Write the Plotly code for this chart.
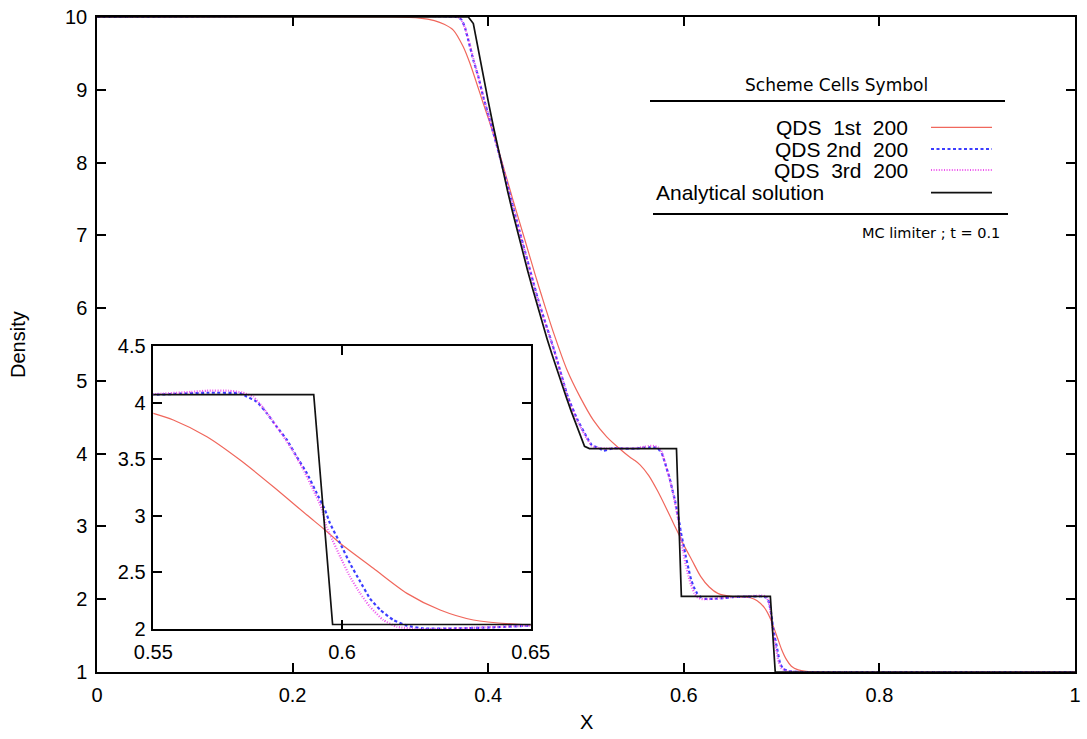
import plotly.graph_objects as go

# Density profiles at t = 0.1 on 200 cells (MC limiter)
x_first = [0.0, 0.30, 0.33, 0.345, 0.355, 0.3643, 0.3745, 0.3814, 0.3882, 0.3950,
           0.4018, 0.4121, 0.425, 0.437, 0.448, 0.4591, 0.4666, 0.4803, 0.4939,
           0.5075, 0.5212, 0.535, 0.545, 0.55, 0.5553, 0.5642, 0.5730, 0.5818,
           0.5907, 0.5955, 0.5995, 0.6083, 0.6172, 0.626, 0.6348, 0.65, 0.66,
           0.668, 0.675, 0.682, 0.688, 0.692, 0.696, 0.700, 0.705, 0.710, 0.717,
           0.725, 0.74, 1.0]
rho_first = [10.0, 10.0, 9.985, 9.95, 9.90, 9.82, 9.59, 9.36, 9.09, 8.81,
             8.54, 8.10, 7.50, 6.96, 6.46, 5.98, 5.67, 5.16, 4.78,
             4.46, 4.23, 4.06, 3.95, 3.905, 3.846, 3.699, 3.493, 3.257,
             3.007, 2.875, 2.757, 2.536, 2.315, 2.168, 2.08, 2.035, 2.03,
             2.02, 1.98, 1.89, 1.75, 1.61, 1.46, 1.31, 1.17, 1.08, 1.03,
             1.01, 1.0, 1.0]

x_second = [0.0, 0.368, 0.3729, 0.3763, 0.3797, 0.3848, 0.3899, 0.395, 0.4018, 0.4121,
            0.43, 0.4512, 0.4675, 0.4815, 0.4915, 0.5007, 0.5058, 0.5143, 0.5177, 0.528,
            0.54, 0.55, 0.5642, 0.573, 0.5748, 0.5774, 0.5801, 0.5827, 0.5854, 0.588,
            0.5907, 0.5933, 0.5955, 0.5968, 0.5995, 0.6021, 0.6048, 0.6074, 0.6101,
            0.6136, 0.6172, 0.6216, 0.63, 0.64, 0.65, 0.665, 0.68, 0.685, 0.6875,
            0.6899, 0.6915, 0.695, 0.6984, 0.7018, 0.7086, 0.72, 1.0]
rho_second = [10.0, 10.0, 9.96, 9.85, 9.68, 9.41, 9.18, 8.90, 8.58, 8.07,
              7.16, 6.11, 5.42, 4.78, 4.46, 4.23, 4.12, 4.07, 4.04, 4.075,
              4.07, 4.07, 4.087, 4.082, 4.052, 4.008, 3.905, 3.787, 3.67, 3.522,
              3.375, 3.199, 3.051, 2.934, 2.757, 2.58, 2.42, 2.27, 2.17,
              2.08, 2.03, 2.005, 2.005, 2.015, 2.03, 2.035, 2.04, 2.02, 1.94,
              1.76, 1.58, 1.35, 1.12, 1.04, 1.01, 1.0, 1.0]

x_third = [0.0, 0.3685, 0.372, 0.376, 0.3797, 0.3848, 0.39, 0.395, 0.4018, 0.4121,
           0.43, 0.4512, 0.4675, 0.4815, 0.4915, 0.5007, 0.5058, 0.512, 0.52, 0.53,
           0.54, 0.55, 0.56, 0.5642, 0.57, 0.5735, 0.5765, 0.5792, 0.5818, 0.5845,
           0.5871, 0.5898, 0.5924, 0.5946, 0.5959, 0.5968, 0.5995, 0.6021, 0.6048,
           0.6074, 0.6109, 0.6145, 0.62, 0.63, 0.65, 0.665, 0.68, 0.684, 0.687,
           0.689, 0.691, 0.694, 0.697, 0.70, 0.706, 0.72, 1.0]
rho_third = [10.0, 10.0, 9.97, 9.86, 9.70, 9.43, 9.17, 8.91, 8.58, 8.07,
             7.15, 6.10, 5.41, 4.77, 4.44, 4.21, 4.11, 4.08, 4.07, 4.075,
             4.075, 4.075, 4.095, 4.105, 4.105, 4.09, 4.052, 3.95, 3.83, 3.70,
             3.566, 3.405, 3.228, 3.066, 2.90, 2.834, 2.64, 2.462, 2.315,
             2.197, 2.08, 2.02, 2.0, 2.005, 2.03, 2.04, 2.05, 2.04, 1.95,
             1.80, 1.58, 1.35, 1.14, 1.05, 1.01, 1.0, 1.0]

x_exact = [0.0, 0.3797, 0.3848, 0.39, 0.395, 0.40, 0.405, 0.41, 0.4121, 0.415,
           0.42, 0.425, 0.43, 0.435, 0.44, 0.445, 0.45, 0.4512, 0.455, 0.46,
           0.465, 0.47, 0.475, 0.48, 0.485, 0.49, 0.495, 0.4985, 0.5035,
           0.5925, 0.5975, 0.6885, 0.6935, 1.0]
rho_exact = [10.0, 10.0, 9.91, 9.534, 9.184, 8.843, 8.513, 8.193, 8.06, 7.886,
             7.598, 7.318, 7.047, 6.785, 6.531, 6.286, 6.048, 5.98, 5.809, 5.587,
             5.372, 5.164, 4.962, 4.767, 4.578, 4.395, 4.218, 4.10, 4.07,
             4.07, 2.04, 2.04, 1.0, 1.0]

legend_rows = ["QDS\u00a0\u00a01st\u00a0\u00a0200",
               "QDS\u00a02nd\u00a0\u00a0200",
               "QDS\u00a0\u00a03rd\u00a0\u00a0200"]
legend_title = "Scheme Cells Symbol"
exact_label = "Analytical solution"
note_text = "MC limiter ; t = 0.1"

main_x_ticks = [0, 0.2, 0.4, 0.6, 0.8, 1]
main_y_ticks = [1, 2, 3, 4, 5, 6, 7, 8, 9, 10]
inset_x_ticks = [0.55, 0.6, 0.65]
inset_y_ticks = [2, 2.5, 3, 3.5, 4, 4.5]

styles = [
    dict(color="#f0675c", width=1.2, shape="spline", smoothing=0.8),
    dict(color="#3c3cff", width=2.2, dash="3px,2.5px", shape="spline", smoothing=0.4),
    dict(color="#ee55ee", width=2.2, dash="1px,1.6px", shape="spline", smoothing=0.4),
    dict(color="#111111", width=1.7),
]
sample_styles = [
    dict(color="#f0675c", width=1.2),
    dict(color="#3c3cff", width=2.2, dash="3px,2.5px"),
    dict(color="#ee55ee", width=2.2, dash="1px,1.6px"),
    dict(color="#111111", width=1.7),
]
series = [(x_first, rho_first), (x_second, rho_second),
          (x_third, rho_third), (x_exact, rho_exact)]

fig = go.Figure()
for xa, ya in (("x", "y"), ("x2", "y2")):
    for (xs, ys), st in zip(series, styles):
        fig.add_trace(go.Scatter(x=xs, y=ys, mode="lines", line=st,
                                 showlegend=False, hoverinfo="skip",
                                 xaxis=xa, yaxis=ya))

FONT = "Liberation Sans, Arial, Helvetica, sans-serif"
axis_common = dict(showline=True, linecolor="black", linewidth=1.5,
                   mirror="ticks", ticks="inside", tickcolor="black",
                   tickwidth=1.5, showgrid=False, zeroline=False,
                   automargin=False,
                   tickfont=dict(family=FONT, size=20, color="black"))

fig.update_layout(
    width=1087, height=739,
    margin=dict(l=97, r=12, t=17, b=67),
    paper_bgcolor="white", plot_bgcolor="white",
    xaxis=dict(range=[0, 1], tickvals=main_x_ticks,
               ticktext=[f"{v:g}" for v in main_x_ticks], ticklen=9,
               ticklabelstandoff=4, **axis_common),
    yaxis=dict(range=[1, 10], tickvals=main_y_ticks,
               ticktext=[str(v) for v in main_y_ticks], ticklen=9,
               ticklabelstandoff=4, **axis_common),
    xaxis2=dict(domain=[0.0576, 0.4435], anchor="y2", range=[0.55, 0.65],
                tickvals=inset_x_ticks,
                ticktext=[f"{v:g}" for v in inset_x_ticks], ticklen=9,
                ticklabelstandoff=4, **axis_common),
    yaxis2=dict(domain=[0.0656, 0.4977], anchor="x2", range=[2, 4.5],
                tickvals=inset_y_ticks,
                ticktext=[f"{v:g}" for v in inset_y_ticks], ticklen=9,
                ticklabelstandoff=2, **axis_common),
)

def px_x(p):
    return (p - 97) / 978

def px_y(p):
    return (672 - p) / 655

annotations = [
    dict(text="Density", x=px_x(18), y=px_y(345), textangle=-90,
         font=dict(family=FONT, size=20)),
    dict(text="X", x=px_x(586), y=px_y(722),
         font=dict(family=FONT, size=20)),
    dict(text=legend_title, x=px_x(836.7), y=px_y(85),
         font=dict(family="DejaVu Sans, sans-serif", size=17)),
    dict(text=note_text, x=px_x(1002), y=px_y(233), xanchor="right",
         font=dict(family="DejaVu Sans, sans-serif", size=14.5)),
    dict(text=exact_label, x=px_x(654), y=px_y(192.7), xanchor="left",
         font=dict(family=FONT, size=21)),
]
for label, yy in zip(legend_rows, [127.3, 149, 170]):
    annotations.append(dict(text=label, x=px_x(910), y=px_y(yy),
                            xanchor="right", font=dict(family=FONT, size=21)))
for a in annotations:
    a.setdefault("xanchor", "center")
    a.update(xref="paper", yref="paper", showarrow=False, yanchor="middle")
    a["font"].setdefault("color", "black")

shapes = [
    dict(type="line", xref="paper", yref="paper", x0=px_x(650), x1=px_x(1005),
         y0=px_y(101), y1=px_y(101), line=dict(color="black", width=2)),
    dict(type="line", xref="paper", yref="paper", x0=px_x(653), x1=px_x(1008),
         y0=px_y(214), y1=px_y(214), line=dict(color="black", width=2)),
]
for st, yy in zip(sample_styles, [127.3, 149, 170, 192.7]):
    shapes.append(dict(type="line", xref="paper", yref="paper",
                       x0=px_x(931), x1=px_x(992), y0=px_y(yy), y1=px_y(yy),
                       line=st))

fig.update_layout(annotations=annotations, shapes=shapes)
fig.write_html("out.html")
